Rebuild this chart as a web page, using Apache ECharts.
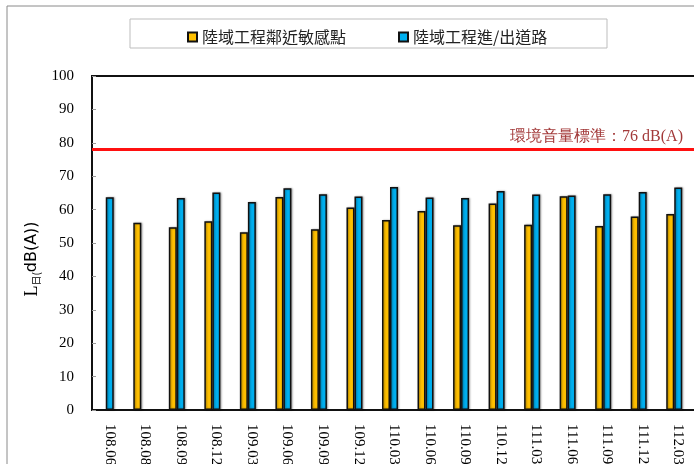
<!DOCTYPE html>
<html>
<head>
<meta charset="utf-8">
<script src="https://cdn.jsdelivr.net/npm/echarts@6/dist/echarts.min.js"></script>
<style>html,body{margin:0;padding:0;background:#fff}#c{width:694px;height:464px}</style>
</head>
<body>
<div id="c"></div>
<script>
const categories = ['108.06','108.08','108.09','108.12','109.03','109.06','109.09','109.12','110.03','110.06','110.09','110.12','111.03','111.06','111.09','111.12','112.03'];
const sensitiveName = '陸域工程鄰近敏感點';
const roadName = '陸域工程進/出道路';
const sensitiveValues = [null, 56.1, 54.7, 56.5, 53.2, 63.8, 54.1, 60.6, 56.9, 59.6, 55.3, 61.8, 55.5, 64.0, 55.1, 57.9, 58.7];
const roadValues = [63.7, null, 63.5, 65.1, 62.3, 66.4, 64.6, 63.9, 66.8, 63.6, 63.5, 65.6, 64.5, 64.2, 64.6, 65.3, 66.6];
const standardLineValue = 78;
const standardText = '環境音量標準：76 dB(A)';
const yTicks = { min: 0, max: 100, interval: 10 };

const chart = echarts.init(document.getElementById('c'), null, { renderer: 'canvas' });
const serif = 'Liberation Serif, Times New Roman, serif';
const cjk = 'Noto Sans CJK TC, Noto Sans, sans-serif';
const barBase = { type: 'bar', barWidth: 8, barGap: '0%', itemStyle: { borderColor: '#111', borderWidth: 1.5, shadowColor: 'rgba(0,0,0,0.35)', shadowBlur: 2, shadowOffsetX: 1, shadowOffsetY: 0 } };

chart.setOption({
  animation: false,
  backgroundColor: '#fff',
  graphic: [
    { type: 'rect', shape: { x: 7, y: 6, width: 720, height: 520 }, style: { fill: null, stroke: '#8a8a8a', lineWidth: 1 }, silent: true },
    { type: 'rect', shape: { x: 130, y: 19, width: 477, height: 29 }, style: { fill: null, stroke: '#bdbdbd', lineWidth: 1 }, silent: true },
    { type: 'text', x: 683, y: 137, style: { text: standardText, font: '16px ' + serif, fill: '#a33a3a', align: 'right', verticalAlign: 'middle' } },
    { type: 'text', x: 32, y: 259, rotation: Math.PI / 2,
      style: { text: '{a|L}{b|日(}{c|dB(A))}', align: 'center', verticalAlign: 'middle',
        rich: { a: { font: '18px ' + serif, fill: '#000' }, b: { font: '10px ' + cjk, fill: '#000', padding: [8, 0, 0, 0] }, c: { font: '16px DejaVu Sans, Liberation Sans, sans-serif', fill: '#000' } } } }
  ],
  legend: {
    data: [sensitiveName, roadName],
    left: 182, top: 24, itemGap: 52, icon: 'rect', itemWidth: 9, itemHeight: 9,
    textStyle: { fontFamily: cjk, fontSize: 16, color: '#222' }
  },
  grid: { left: 92, top: 76, width: 604, height: 334, outerBoundsMode: 'none', containLabel: false, show: true, borderColor: '#111', borderWidth: 2, backgroundColor: 'transparent' },
  xAxis: {
    type: 'category', data: categories,
    axisLine: { lineStyle: { color: '#111', width: 2 } },
    axisTick: { inside: true, length: 4, lineStyle: { color: '#999' } },
    axisLabel: { rotate: -90, margin: 14, fontFamily: serif, fontSize: 15, color: '#000' }
  },
  yAxis: {
    type: 'value', min: yTicks.min, max: yTicks.max, interval: yTicks.interval,
    splitLine: { show: false },
    axisLine: { show: true, lineStyle: { color: '#111', width: 2 } },
    axisTick: { show: true, inside: true, length: 4, lineStyle: { color: '#999' } },
    axisLabel: { margin: 18, fontFamily: serif, fontSize: 15, color: '#000' }
  },
  series: [
    Object.assign({}, barBase, { name: sensitiveName, data: sensitiveValues, itemStyle: Object.assign({}, barBase.itemStyle, { color: '#FFC000' }) }),
    Object.assign({}, barBase, { name: roadName, data: roadValues, itemStyle: Object.assign({}, barBase.itemStyle, { color: '#00B0F0' }),
      markLine: { silent: true, symbol: 'none', label: { show: false }, lineStyle: { color: '#ff1010', width: 3, type: 'solid' }, data: [{ yAxis: standardLineValue }] } }),
    Object.assign({}, barBase, { name: 'pad', data: categories.map(() => null), itemStyle: { color: 'transparent' } })
  ]
});
</script>
</body>
</html>
